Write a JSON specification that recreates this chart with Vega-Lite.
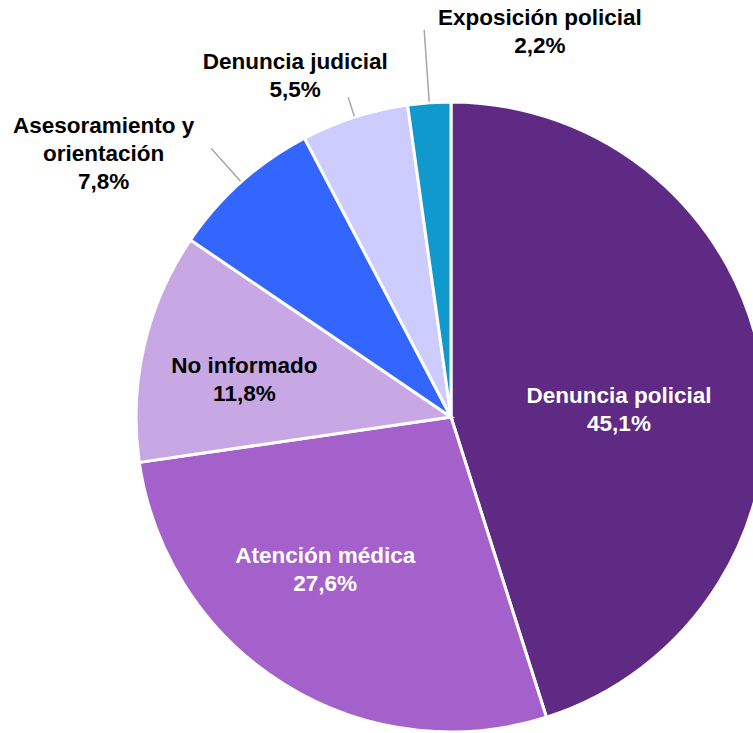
{
  "$schema": "https://vega.github.io/schema/vega-lite/v6.json",
  "width": 600,
  "height": 600,
  "autosize": {"type": "none"},
  "padding": {"left": 151, "top": 117, "right": 2, "bottom": 16},
  "background": "white",
  "config": {"view": {"stroke": null}},
  "data": {
    "values": [
      {"name": "Denuncia policial", "value": 45.1, "label": "Denuncia policial\n45,1%"},
      {"name": "Atención médica", "value": 27.6, "label": "Atención médica\n27,6%"},
      {"name": "No informado", "value": 11.8, "label": "No informado\n11,8%"},
      {"name": "Asesoramiento y orientación", "value": 7.8, "label": "Asesoramiento y\norientación\n7,8%"},
      {"name": "Denuncia judicial", "value": 5.5, "label": "Denuncia judicial\n5,5%"},
      {"name": "Exposición policial", "value": 2.2, "label": "Exposición policial\n2,2%"}
    ]
  },
  "encoding": {
    "theta": {"field": "value", "type": "quantitative", "stack": true},
    "order": {"field": "value", "type": "quantitative", "sort": "descending"},
    "detail": {"field": "name", "type": "nominal"}
  },
  "layer": [
    {
      "mark": {"type": "arc", "outerRadius": 315, "stroke": "white", "strokeWidth": 3},
      "encoding": {
        "color": {
          "field": "name",
          "type": "nominal",
          "legend": null,
          "scale": {
            "domain": ["Denuncia policial", "Atención médica", "No informado", "Asesoramiento y orientación", "Denuncia judicial", "Exposición policial"],
            "range": ["#5F2A84", "#A461CC", "#C8A8E4", "#3366FF", "#CCCCFF", "#0F99CC"]
          }
        }
      }
    },
    {
      "mark": {"type": "arc", "padAngle": 3.2, "innerRadius": 316, "outerRadius": 388, "fillOpacity": 0, "stroke": "#A6A6A6", "strokeWidth": 1.5},
      "encoding": {"strokeOpacity": {"condition": {"test": "datum.name === 'Exposición policial'", "value": 1}, "value": 0}}
    },
    {
      "mark": {"type": "arc", "padAngle": 3.2, "innerRadius": 316, "outerRadius": 336, "fillOpacity": 0, "stroke": "#A6A6A6", "strokeWidth": 1.5},
      "encoding": {"strokeOpacity": {"condition": {"test": "datum.name === 'Denuncia judicial'", "value": 1}, "value": 0}}
    },
    {
      "mark": {"type": "arc", "padAngle": 3.2, "innerRadius": 316, "outerRadius": 360, "fillOpacity": 0, "stroke": "#A6A6A6", "strokeWidth": 1.5},
      "encoding": {"strokeOpacity": {"condition": {"test": "datum.name === 'Asesoramiento y orientación'", "value": 1}, "value": 0}}
    },
    {
      "mark": {"type": "text", "radius": 170, "dx": 0, "dy": 5, "font": "Liberation Sans", "fontWeight": "bold", "fontSize": 22.5, "lineBreak": "\n", "lineHeight": 28, "color": "white"},
      "encoding": {"text": {"condition": {"test": "datum.name === 'Denuncia policial'", "field": "label", "type": "nominal"}, "value": ""}}
    },
    {
      "mark": {"type": "text", "radius": 190, "dx": -25, "dy": -22, "font": "Liberation Sans", "fontWeight": "bold", "fontSize": 22.5, "lineBreak": "\n", "lineHeight": 28, "color": "white"},
      "encoding": {"text": {"condition": {"test": "datum.name === 'Atención médica'", "field": "label", "type": "nominal"}, "value": ""}}
    },
    {
      "mark": {"type": "text", "radius": 212, "dx": 0, "dy": -3, "font": "Liberation Sans", "fontWeight": "bold", "fontSize": 22.5, "lineBreak": "\n", "lineHeight": 28, "color": "black"},
      "encoding": {"text": {"condition": {"test": "datum.name === 'No informado'", "field": "label", "type": "nominal"}, "value": ""}}
    },
    {
      "mark": {"type": "text", "radius": 427, "dx": -63, "dy": 28, "font": "Liberation Sans", "fontWeight": "bold", "fontSize": 22.5, "lineBreak": "\n", "lineHeight": 28, "color": "black"},
      "encoding": {"text": {"condition": {"test": "datum.name === 'Asesoramiento y orientación'", "field": "label", "type": "nominal"}, "value": ""}}
    },
    {
      "mark": {"type": "text", "radius": 372, "dx": -42, "dy": -1, "font": "Liberation Sans", "fontWeight": "bold", "fontSize": 22.5, "lineBreak": "\n", "lineHeight": 28, "color": "black"},
      "encoding": {"text": {"condition": {"test": "datum.name === 'Denuncia judicial'", "field": "label", "type": "nominal"}, "value": ""}}
    },
    {
      "mark": {"type": "text", "radius": 378, "dx": 115, "dy": -22, "font": "Liberation Sans", "fontWeight": "bold", "fontSize": 22.5, "lineBreak": "\n", "lineHeight": 28, "color": "black"},
      "encoding": {"text": {"condition": {"test": "datum.name === 'Exposición policial'", "field": "label", "type": "nominal"}, "value": ""}}
    }
  ]
}
